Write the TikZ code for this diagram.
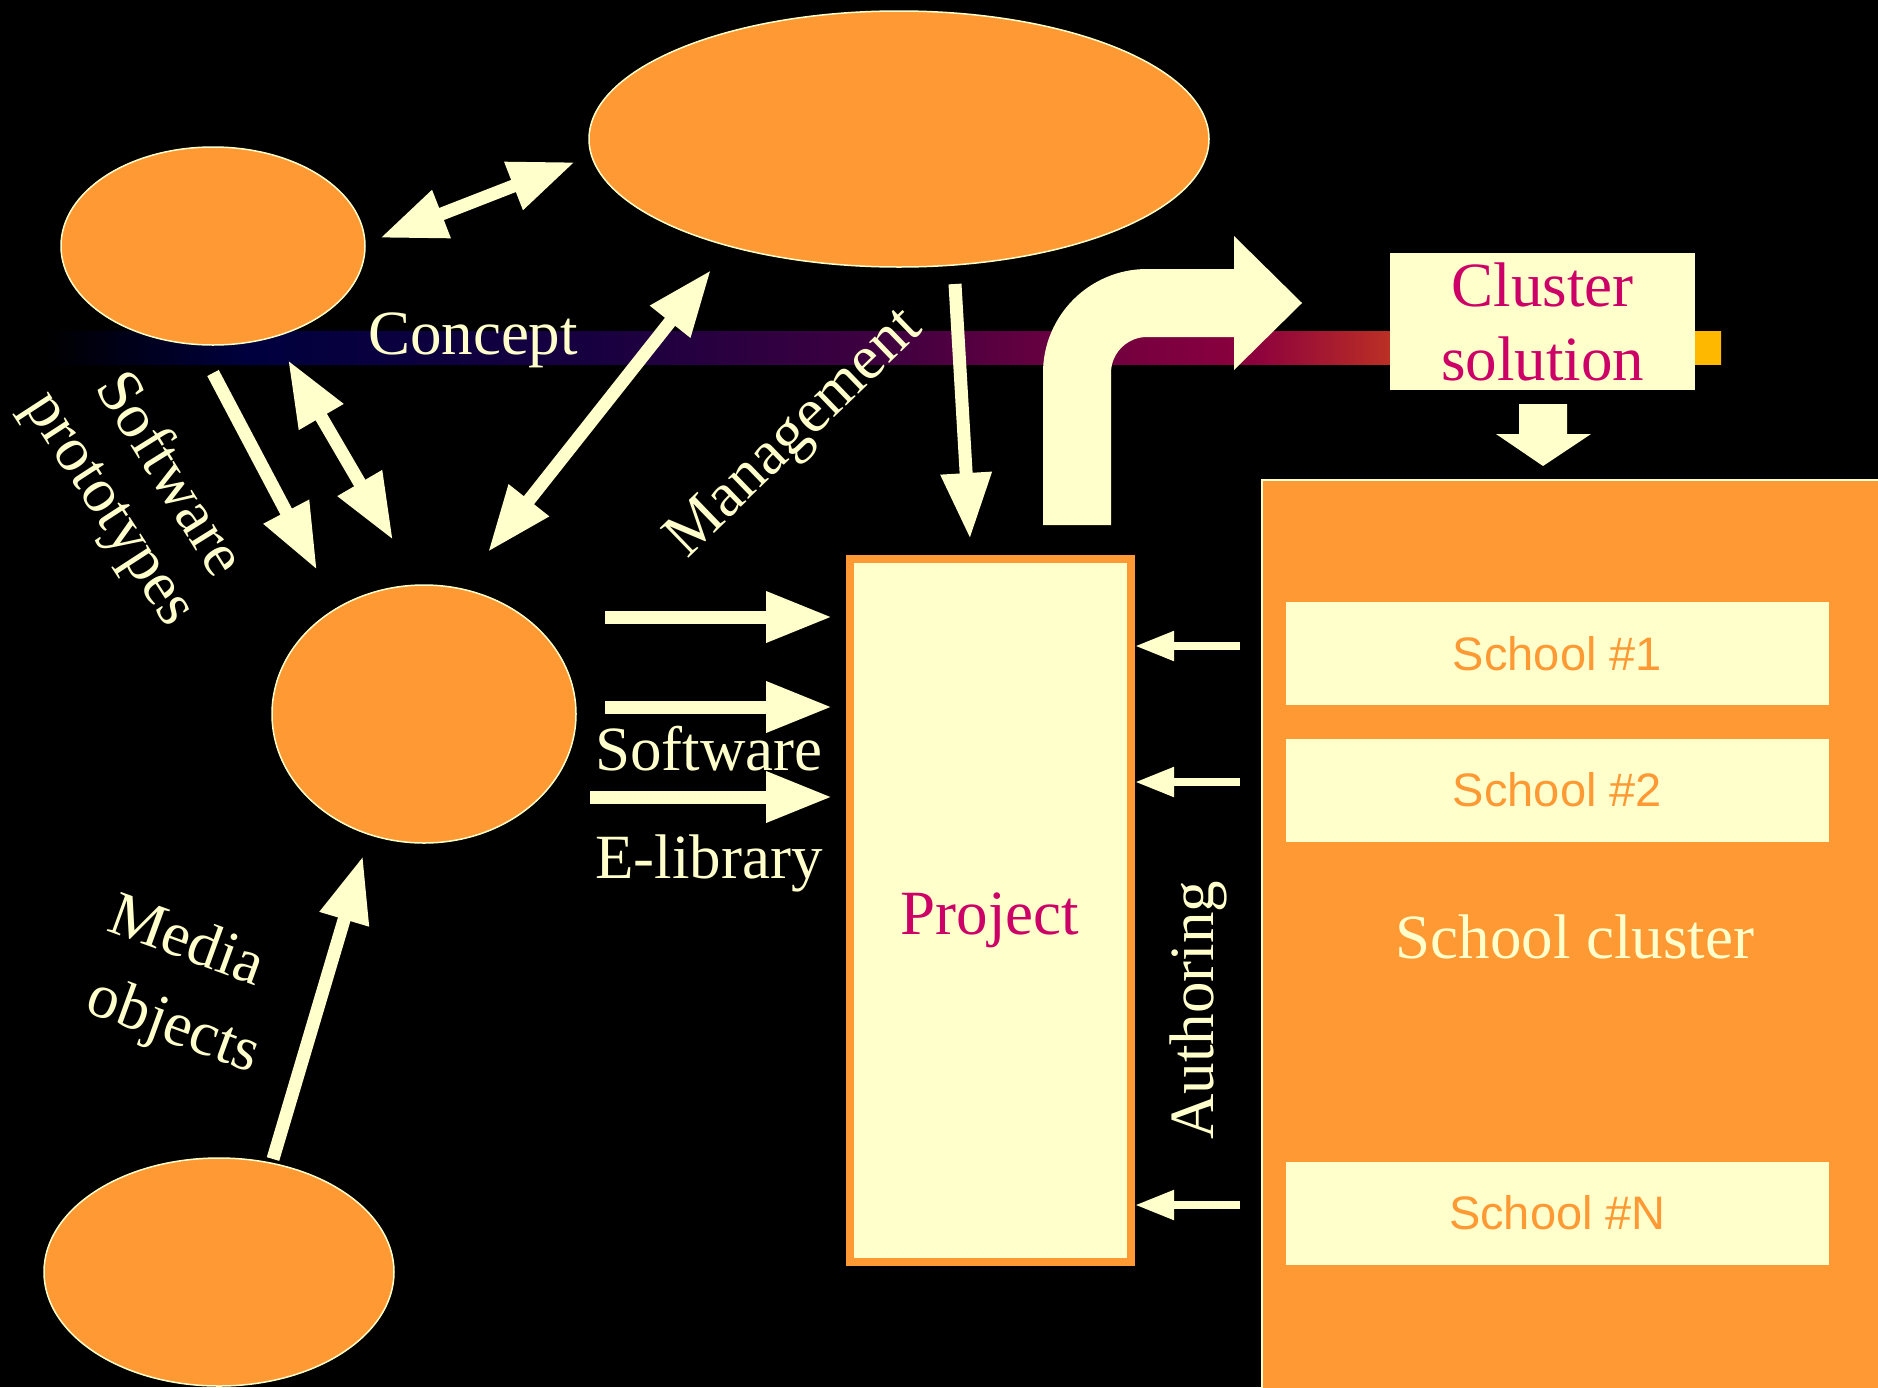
\documentclass[tikz,border=0pt]{standalone}
\usepackage{fontspec}
\setmainfont{Liberation Serif}
\newfontfamily\arialfont{Liberation Sans}
\usepackage{xcolor}
\usepackage{tikz}
\usetikzlibrary{arrows.meta, shapes.geometric}

\definecolor{cream}{RGB}{255,255,204}
\definecolor{blobfill}{RGB}{255,153,51}
\definecolor{rose}{RGB}{204,0,102}
\definecolor{barnavy}{RGB}{0,0,62}
\definecolor{barviolet}{RGB}{24,0,64}
\definecolor{barplum}{RGB}{66,0,64}
\definecolor{barwine}{RGB}{104,0,64}
\definecolor{barberry}{RGB}{140,0,62}
\definecolor{barbrick}{RGB}{180,40,40}
\definecolor{barorange}{RGB}{235,120,20}
\definecolor{bargold}{RGB}{255,184,0}

\pgfdeclarehorizontalshading{barshade}{100bp}{color(0bp)=(black); color(25bp)=(black); color(31bp)=(barnavy); color(41.5bp)=(barviolet); color(50.5bp)=(barplum); color(55bp)=(barwine); color(61bp)=(barberry); color(64.5bp)=(barbrick); color(70bp)=(barorange); color(74bp)=(bargold); color(100bp)=(bargold)}

\begin{document}
\begin{tikzpicture}[x=1pt, y=-1pt,
		blob/.style={ellipse, fill=blobfill, draw=cream, line width=1.5pt, inner sep=0pt},
		word/.style={text=cream, font=\fontsize{63}{74}\selectfont, inner sep=0pt},
		fat/.style={draw=cream, line width=13pt, -{Triangle[length=66pt, width=48pt]}},
		fatboth/.style={fat, {Triangle[length=66pt, width=48pt]}-{Triangle[length=66pt, width=48pt]}},
		slim/.style={draw=cream, line width=8pt, -{Triangle[length=39pt, width=28pt]}},
		school/.style={fill=cream, minimum width=543pt, minimum height=103pt, inner sep=0pt, text=blobfill, font=\arialfont\fontsize{47}{52}\selectfont}]
		\def\W{1878};
		\def\H{1387};
		
		\fill[black] (0,0) rectangle (\W,\H);
		\useasboundingbox (0,0) rectangle (\W,\H);
		\clip (0,0) rectangle (\W,\H);
		
		% band behind everything
		\shade[shading=barshade] (45,331) rectangle (1721,364);
		
		\node[blob, minimum width=304pt, minimum height=198pt] (concept) at (213,246) {};
		\node[blob, minimum width=620pt, minimum height=256pt] (manage) at (899,139) {};
		\node[blob, minimum width=304pt, minimum height=258pt] (soft) at (424,714) {};
		\node[blob, minimum width=350pt, minimum height=228pt] (media) at (219,1272) {};
		
		\coordinate (c1) at (380,238);
		\coordinate (c2) at (575,162);
		\coordinate (d1) at (488,552);
		\coordinate (d2) at (711,270);
		\coordinate (p1) at (213,373);
		\coordinate (p2) at (317,570);
		\coordinate (q1) at (288,360);
		\coordinate (q2) at (393,540);
		\coordinate (m1) at (955,284);
		\coordinate (m2) at (970,539);
		\coordinate (o1) at (273,1159);
		\coordinate (o2) at (363,856);
		
		\draw[fatboth] (c1) -- (c2);
		\draw[fatboth] (d1) -- (d2);
		\draw[fat] (p1) -- (p2);
		\draw[fatboth] (q1) -- (q2);
		\draw[fat] (m1) -- (m2);
		\draw[fat] (o1) -- (o2);
		
		\node[draw=blobfill, line width=8pt, fill=cream, minimum width=281pt, minimum height=703pt] (project) at (990.5,910.5) {};
		\node[word, text=rose, anchor=base] (lproject) at (990,934) {Project};
		
		\foreach \y/\x in {617/605, 707/605, 797/590}
			\draw[fat] (\x,\y) -- ([xshift=-14pt]project.west |- 0,\y);
		
		% bent arrow up to the solution
		\coordinate (bendfoot) at (1077,525);
		\coordinate (bendknee) at (1077,303);
		\coordinate (bendend) at (1236,303);
		\draw[cream, line width=68pt, rounded corners=70pt] (bendfoot) -- (bendknee) -- (bendend);
		\fill[cream] (1234,236) -- (1302,303) -- (1234,370) -- cycle;
		
		\node[fill=cream, minimum width=305pt, minimum height=137pt, inner sep=0pt, text=rose, align=center, font=\fontsize{63}{74}\selectfont] (solution) at (1542.5,321.5) {Cluster\\solution};
		
		\fill[cream] (1519,404) -- (1567,404) -- (1567,434) -- (1591,434) -- (1543,466) -- (1496,434) -- (1519,434) -- cycle;
		
		\fill[blobfill] (1262,480) rectangle (1890,1400);
		\draw[cream, line width=1.5pt] (1262,1400) -- (1262,480) -- (1890,480);
		
		\node[school] (s1) at (1557.5,653.5) {School \#1};
		\node[school] (s2) at (1557.5,790) {School \#2};
		\node[school] (sn) at (1557.5,1213) {School \#N};
		
		\foreach \y in {646, 782, 1205}
			\draw[slim] (1240,\y) -- (project.east |- 0,\y);
		
		\node[word, anchor=base] (lconcept) at (473,354) {Concept};
		\node[word, anchor=base west] (lsoft) at (595,770) {Software};
		\node[word, anchor=base west] (llib) at (595,878) {E-library};
		\node[word, anchor=base] (lcluster) at (1575,958) {School cluster};
		\node[word, rotate=-58] (lsw) at (173,472) {Software};
		\node[word, rotate=-57] (lproto) at (105,512) {prototypes};
		\node[word, rotate=44] (lmanage) at (796,435) {Management};
		\node[word, rotate=-20] (lmedia) at (188,938) {Media};
		\node[word, rotate=-20] (lobj) at (173,1028) {objects};
		\node[word, rotate=90] (lauthor) at (1198,1010) {Authoring};
	\end{tikzpicture}
\end{document}
